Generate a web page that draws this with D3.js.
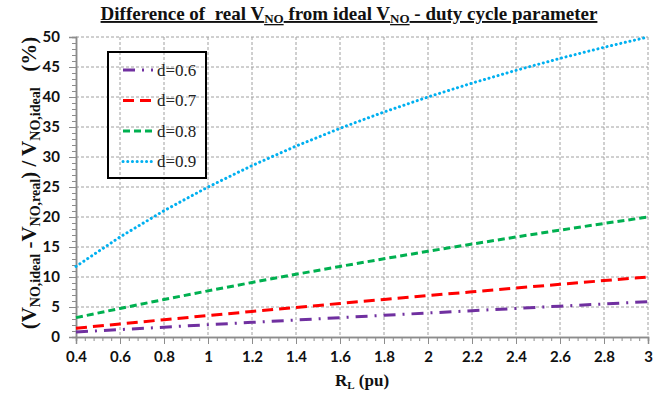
<!DOCTYPE html>
<html>
<head>
<meta charset="utf-8">
<script src="https://cdn.jsdelivr.net/npm/d3@7"></script>
<style>
  html, body { margin: 0; padding: 0; background: #fff; }
  svg { display: block; }
</style>
</head>
<body>
<svg id="chart" width="665" height="393"></svg>
<script>
// Load resistance values (pu)
const rl = [0.4, 0.6, 0.8, 1.0, 1.2, 1.4, 1.6, 1.8, 2.0, 2.2, 2.4, 2.6, 2.8, 3.0];

// Relative difference (%) for each duty cycle
const d06 = [0.83, 1.23, 1.64, 2.04, 2.44, 2.83, 3.23, 3.61, 4.00, 4.38, 4.76, 5.14, 5.51, 5.88];
const d07 = [1.46, 2.17, 2.88, 3.57, 4.26, 4.93, 5.59, 6.25, 6.90, 7.53, 8.16, 8.78, 9.40, 10.0];
const d08 = [3.23, 4.76, 6.25, 7.69, 9.09, 10.45, 11.76, 13.04, 14.29, 15.49, 16.67, 17.81, 18.92, 20.0];
const d09 = [11.76, 16.67, 21.05, 25.0, 28.57, 31.82, 34.78, 37.5, 40.0, 42.31, 44.44, 46.43, 48.28, 50.0];

const seriesNames = ["d=0.6", "d=0.7", "d=0.8", "d=0.9"];
const xTicks = [0.4, 0.6, 0.8, 1, 1.2, 1.4, 1.6, 1.8, 2, 2.2, 2.4, 2.6, 2.8, 3];
const yTicks = [0, 5, 10, 15, 20, 25, 30, 35, 40, 45, 50];

const styles = [
  { color: "#7030A0", dash: "12,7,2,7", cap: "butt" },
  { color: "#FF0000", dash: "11,6", cap: "butt" },
  { color: "#00B050", dash: "7,4", cap: "butt" },
  { color: "#00B0F0", dash: "0.1,4.6", cap: "round" }
];

const series = [d06, d07, d08, d09].map((vals, i) => ({
  name: seriesNames[i],
  style: styles[i],
  points: rl.map((r, j) => ({ x: r, y: vals[j] }))
}));

const svg = d3.select("#chart");
const m = { left: 76, right: 648, top: 37, bottom: 337 };

const x = d3.scaleLinear().domain([0.4, 3]).range([m.left, m.right]);
const y = d3.scaleLinear().domain([0, 50]).range([m.bottom, m.top]);

const gridColor = "#a0a0a0";

// Dashed grid
const grid = svg.append("g");
grid.selectAll("line.v").data(xTicks.slice(1)).join("line")
  .attr("x1", d => x(d)).attr("x2", d => x(d))
  .attr("y1", m.top).attr("y2", m.bottom)
  .attr("stroke", gridColor).attr("stroke-width", 1).attr("stroke-dasharray", "3,2");
grid.selectAll("line.h").data(yTicks.slice(1)).join("line")
  .attr("x1", m.left).attr("x2", m.right)
  .attr("y1", d => y(d)).attr("y2", d => y(d))
  .attr("stroke", gridColor).attr("stroke-width", 1).attr("stroke-dasharray", "3,2");

// Minor ticks
const xMinor = d3.range(0.4, 3.0001, 0.04).map(v => +v.toFixed(2));
const yMinor = d3.range(0, 50.001, 1);

const axisColor = "#8c8c8c";
const xAxisG = svg.append("g").attr("transform", `translate(0,${m.bottom})`)
  .call(d3.axisBottom(x).tickValues(xMinor).tickSize(4).tickFormat(""));
const xAxisMajor = svg.append("g").attr("transform", `translate(0,${m.bottom})`)
  .call(d3.axisBottom(x).tickValues(xTicks).tickSize(7).tickPadding(7).tickFormat(d3.format("")));
const yAxisG = svg.append("g").attr("transform", `translate(${m.left},0)`)
  .call(d3.axisLeft(y).tickValues(yMinor).tickSize(4).tickFormat(""));
const yAxisMajor = svg.append("g").attr("transform", `translate(${m.left},0)`)
  .call(d3.axisLeft(y).tickValues(yTicks).tickSize(7).tickPadding(9));

[xAxisG, xAxisMajor, yAxisG, yAxisMajor].forEach(g => {
  g.selectAll("path.domain").attr("stroke", axisColor).attr("stroke-width", 1.5);
  g.selectAll(".tick line").attr("stroke", axisColor).attr("stroke-width", 1);
  g.selectAll("text")
    .attr("font-family", "Lato, Liberation Sans, Arial, sans-serif")
    .attr("font-weight", "bold").attr("font-size", 15).attr("fill", "#111");
});

// Series lines
const line = d3.line().x(d => x(d.x)).y(d => y(d.y));
svg.append("g").selectAll("path").data(series).join("path")
  .attr("d", d => line(d.points))
  .attr("fill", "none")
  .attr("stroke", d => d.style.color)
  .attr("stroke-width", 3)
  .attr("stroke-dasharray", d => d.style.dash)
  .attr("stroke-linecap", d => d.style.cap);

// Legend
const lg = svg.append("g");
lg.append("rect").attr("x", 108).attr("y", 52).attr("width", 98).attr("height", 126)
  .attr("fill", "none").attr("stroke", "#000").attr("stroke-width", 2);
const rows = lg.selectAll("g.row").data(series).join("g")
  .attr("transform", (d, i) => `translate(0,${70 + i * 30.5})`);
rows.append("line").attr("x1", 123).attr("x2", 153).attr("y1", 0).attr("y2", 0)
  .attr("stroke", d => d.style.color).attr("stroke-width", 3)
  .attr("stroke-dasharray", d => d.style.dash)
  .attr("stroke-linecap", d => d.style.cap);
rows.append("text").attr("x", 157).attr("y", 5.5)
  .attr("font-family", "Liberation Serif, Times New Roman, serif")
  .attr("font-size", 17).attr("fill", "#222").text(d => d.name);

// Title
const title = svg.append("text").attr("x", 349).attr("y", 20).attr("text-anchor", "middle")
  .attr("font-family", "Liberation Serif, Times New Roman, serif")
  .attr("font-weight", "bold").attr("font-size", 19)
  .attr("text-decoration", "underline").attr("fill", "#111")
  .attr("xml:space", "preserve");
title.append("tspan").text("Difference of  real V");
title.append("tspan").attr("baseline-shift", "-25%").attr("font-size", 13).text("NO");
title.append("tspan").text(" from ideal V");
title.append("tspan").attr("baseline-shift", "-25%").attr("font-size", 13).text("NO");
title.append("tspan").text(" - duty cycle parameter");

// X axis title
const xt = svg.append("text").attr("x", 362).attr("y", 386).attr("text-anchor", "middle")
  .attr("font-family", "Liberation Serif, Times New Roman, serif")
  .attr("font-weight", "bold").attr("font-size", 17).attr("fill", "#111");
xt.append("tspan").text("R");
xt.append("tspan").attr("baseline-shift", "-25%").attr("font-size", 11).text("L");
xt.append("tspan").text(" (pu)");

// Y axis title
const yt = svg.append("text")
  .attr("transform", "translate(36,183) rotate(-90)")
  .attr("text-anchor", "middle")
  .attr("font-family", "Liberation Serif, Times New Roman, serif")
  .attr("font-weight", "bold").attr("font-size", 21).attr("fill", "#111")
  .attr("xml:space", "preserve");
yt.append("tspan").text("(V");
yt.append("tspan").attr("baseline-shift", "-25%").attr("font-size", 14).text("NO,ideal");
yt.append("tspan").text(" -V");
yt.append("tspan").attr("baseline-shift", "-25%").attr("font-size", 14).text("NO,real");
yt.append("tspan").text(") / V");
yt.append("tspan").attr("baseline-shift", "-25%").attr("font-size", 14).text("NO,ideal");
yt.append("tspan").text("   (%)");
</script>
</body>
</html>
